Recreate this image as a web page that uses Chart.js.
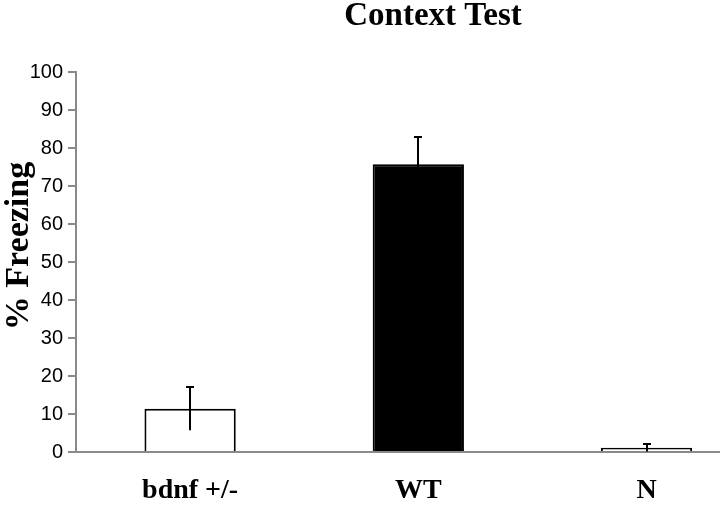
<!DOCTYPE html>
<html><head><meta charset="utf-8">
<script src="https://cdn.jsdelivr.net/npm/chart.js@4/dist/chart.umd.min.js"></script>
<style>html,body{margin:0;padding:0;background:#fff}#wrap{width:720px;height:506px;position:relative}</style>
</head><body><div id="wrap"><canvas id="c" width="720" height="506"></canvas></div>
<script>
const categories = ['bdnf +/-', 'WT', 'N'];
const freezing = [11.4, 75.7, 1.1];
const errors = [5.7, 7.2, 1.0];
const yTicks = [0, 10, 20, 30, 40, 50, 60, 70, 80, 90, 100];
const barFill = ['#ffffff', '#000000', '#ffffff'];
const chartTitle = 'Context Test';
const yTitle = '% Freezing';

const SERIF = '"Liberation Serif","Times New Roman",Times,serif';
const SANS = '"Liberation Sans",Arial,Helvetica,sans-serif';
const AXIS = '#8a8a8a';

const errorBarPlugin = {
  id: 'errorBars',
  afterDatasetsDraw(chart) {
    const ctx = chart.ctx;
    const meta = chart.getDatasetMeta(0);
    const y = chart.scales.y;
    ctx.save();
    ctx.strokeStyle = '#000';
    ctx.lineWidth = 2;
    meta.data.forEach((bar, i) => {
      const x = Math.round(bar.x);
      const top = y.getPixelForValue(freezing[i] + errors[i]);
      const bot = y.getPixelForValue(Math.max(0, freezing[i] - errors[i]));
      ctx.beginPath();
      ctx.moveTo(x, bot);
      ctx.lineTo(x, top);
      ctx.moveTo(x - 4, top);
      ctx.lineTo(x + 4, top);
      ctx.stroke();
    });
    ctx.restore();
  }
};

const textPlugin = {
  id: 'texts',
  afterDraw(chart) {
    const ctx = chart.ctx;
    ctx.save();
    ctx.fillStyle = '#000';
    // chart title
    ctx.font = 'bold 33px ' + SERIF;
    ctx.textAlign = 'center';
    ctx.textBaseline = 'alphabetic';
    ctx.fillText(chartTitle, 433, 25);
    // y-axis title
    ctx.translate(19, 246);
    ctx.rotate(-Math.PI / 2);
    ctx.font = 'bold 34px ' + SERIF;
    ctx.textBaseline = 'middle';
    ctx.fillText(yTitle, 0, 0);
    ctx.restore();
  }
};

new Chart(document.getElementById('c'), {
  type: 'bar',
  data: {
    datasets: [{
      data: categories.map((c, i) => ({ x: i, y: freezing[i] })),
      backgroundColor: barFill,
      borderColor: '#000',
      borderWidth: 2,
      borderSkipped: 'start',
      barPercentage: 0.4,
      categoryPercentage: 1
    }]
  },
  options: {
    responsive: false,
    animation: false,
    devicePixelRatio: 1,
    layout: { padding: { top: 72, right: 0, left: 0, bottom: 0 } },
    plugins: { legend: { display: false }, tooltip: { enabled: false }, title: { display: false } },
    scales: {
      x: {
        type: 'linear',
        offset: false,
        min: -0.5,
        max: 2.322,
        z: 1,
        afterBuildTicks: s => { s.ticks = categories.map((c, i) => ({ value: i })); },
        afterFit: s => { s.height = 54; },
        ticks: {
          callback: v => categories[v],
          font: { family: SERIF, weight: 'bold', size: 28 },
          color: '#000',
          padding: 22,
          autoSkip: false,
          maxRotation: 0
        },
        grid: { display: false, drawTicks: false },
        border: { display: true, color: AXIS, width: 2 }
      },
      y: {
        min: 0,
        max: 100,
        afterBuildTicks: s => { s.ticks = yTicks.map(v => ({ value: v })); },
        afterFit: s => { s.width = 76; },
        ticks: { font: { family: SANS, size: 20 }, color: '#000', padding: 5 },
        grid: { drawOnChartArea: false, drawTicks: true, tickLength: 8, color: AXIS, lineWidth: 2 },
        border: { display: true, color: AXIS, width: 2 },
        title: { display: false }
      }
    }
  },
  plugins: [errorBarPlugin, textPlugin]
});
</script>
</body></html>
